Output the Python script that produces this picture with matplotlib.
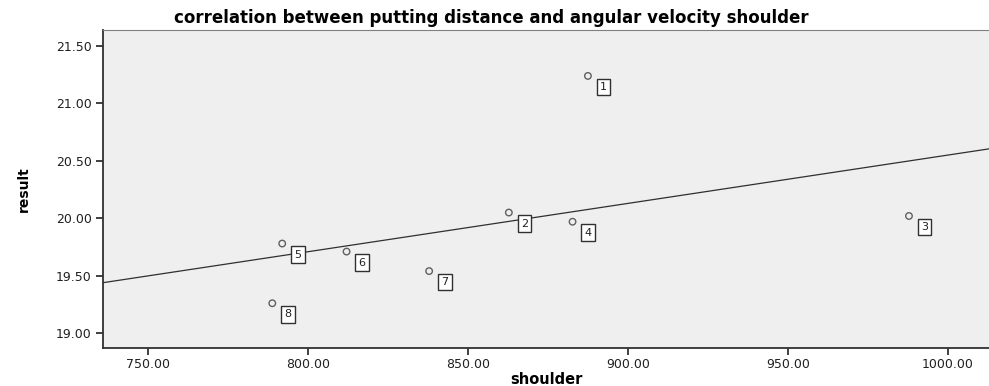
import matplotlib.pyplot as plt
import numpy as np

# case numbers and measured values
case_id = [1, 2, 3, 4, 5, 6, 7, 8]
shoulder = [887.5, 862.8, 987.8, 882.7, 792.0, 812.1, 837.9, 788.9]
result = [21.24, 20.05, 20.02, 19.97, 19.78, 19.71, 19.54, 19.26]

x_ticks = [750, 800, 850, 900, 950, 1000]
y_ticks = [19.0, 19.5, 20.0, 20.5, 21.0, 21.5]

plt.rcParams["font.family"] = ["DejaVu Sans"]

fig = plt.figure(figsize=(9.89, 3.86), dpi=100)
ax = fig.add_axes([0.1041, 0.0984, 0.8959, 0.8239])
ax.set_facecolor("#efefef")

x = np.array(shoulder)
y = np.array(result)

# linear fit line across the whole x range
xmin, xmax = 736, 1012.8
slope, intercept = np.polyfit(x, y, 1)
xs = np.array([xmin, xmax])
ax.plot(xs, slope * xs + intercept, color="#303030", linewidth=0.9)

ax.scatter(x, y, s=22, facecolors="none", edgecolors="#606060", linewidths=1.0, zorder=3)

for cid, xi, yi in zip(case_id, shoulder, result):
    ax.annotate(str(cid), (xi, yi), xytext=(11.2, -7.9), textcoords="offset points",
                ha="center", va="center", fontsize=8, color="#202020",
                bbox=dict(boxstyle="square,pad=0.3", facecolor="white", edgecolor="#303030", linewidth=1.0))

ax.set_xlim(xmin, xmax)
ax.set_ylim(18.87, 21.64)
ax.set_xticks(x_ticks)
ax.set_xticklabels([f"{v:.2f}" for v in x_ticks])
ax.set_yticks(y_ticks)
ax.set_yticklabels([f"{v:.2f}" for v in y_ticks])
ax.tick_params(direction="out", length=5, width=1.2, labelsize=9, colors="#202020", pad=3)
ax.tick_params(axis="x", pad=2)

ax.spines["right"].set_visible(False)
ax.spines["top"].set_color("#808080")
ax.spines["left"].set_linewidth(1.3)
ax.spines["bottom"].set_linewidth(1.3)
ax.spines["left"].set_color("#303030")
ax.spines["bottom"].set_color("#303030")

ax.set_xlabel("shoulder", fontsize=10.5, fontweight="bold", labelpad=1)
ax.set_ylabel("result", fontsize=10, fontweight="bold", family="Liberation Sans Narrow", labelpad=18)
fig.text(0.497, 0.953, "correlation between putting distance and angular velocity shoulder",
         ha="center", va="center", fontsize=12, fontweight="bold")

plt.savefig("out.png", dpi=100)
plt.close()
